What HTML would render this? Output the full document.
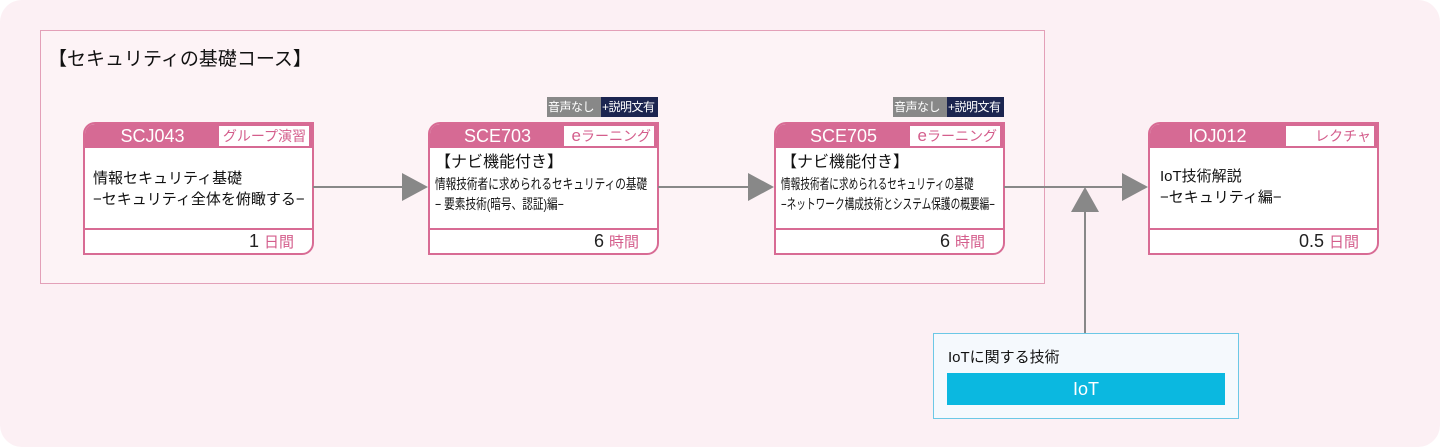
<!DOCTYPE html>
<html><head><meta charset="utf-8"><style>
*{margin:0;padding:0;box-sizing:border-box}
body{width:1440px;height:447px;background:#fff;font-family:"Liberation Sans","Noto Sans CJK JP",sans-serif;position:relative;overflow:hidden}
.bg{position:absolute;left:0;top:0;width:1440px;height:447px;background:#fcf0f4;border-radius:22px}
.grp{position:absolute;left:40px;top:30px;width:1005px;height:254px;border:1px solid #e3a0b8;background:#fdf3f6}
.gt{position:absolute;left:48px;top:44px;font-size:19px;color:#111}
.card{position:absolute;width:231px;height:133px;border:2px solid #d86b94;background:#fff;border-radius:12px 0 12px 0;overflow:hidden}
.hd{position:absolute;left:0;top:0;width:100%;height:24px;background:#d66a94}
.code{position:absolute;left:0;top:0;width:135px;height:24px;color:#fff;font-size:18px;text-align:center;line-height:24px}
.tag{position:absolute;right:3px;top:2px;width:90px;height:20px;background:#fff;color:#d45e8c;font-size:14px;text-align:right;padding-right:3px;line-height:20px;white-space:nowrap}
.body{position:absolute;left:0;top:24px;width:100%;height:82px;border-bottom:2px solid #d86b94;padding-left:8px;color:#111}
.ft{position:absolute;right:18px;bottom:1px;font-size:18px;color:#222}
.ft span{color:#d45e8c;font-size:15px}
.b1{position:absolute;height:20px;font-size:12px;color:#fff;line-height:20px;padding:0 1px;white-space:nowrap;overflow:hidden;letter-spacing:-0.5px}
.cd{font-size:14px;line-height:20px;white-space:nowrap;transform:scaleX(0.76);transform-origin:0 0}
</style></head><body>
<div class="bg"></div>
<div class="grp"></div>
<div class="gt">【セキュリティの基礎コース】</div>

<div class="b1" style="left:547px;top:97px;background:#888;width:54px">音声なし</div>
<div class="b1" style="left:601px;top:97px;background:#1c2550;width:57px">+説明文有</div>
<div class="b1" style="left:893px;top:97px;background:#888;width:54px">音声なし</div>
<div class="b1" style="left:947px;top:97px;background:#1c2550;width:57px">+説明文有</div>

<div class="card" style="left:83px;top:122px"><div class="hd"><div class="code">SCJ043</div><div class="tag">グループ演習</div></div>
<div class="body" style="padding-top:20px;font-size:15px;line-height:21px;white-space:nowrap">情報セキュリティ基礎<br>−セキュリティ全体を俯瞰する−</div><div class="ft">1 <span>日間</span></div></div>

<div class="card" style="left:428px;top:122px"><div class="hd"><div class="code">SCE703</div><div class="tag"><span style="font-size:17px">e</span>ラーニング</div></div>
<div class="body" style="padding-top:4px;padding-left:5px"><div style="font-size:16px;line-height:22px">【ナビ機能付き】</div><div class="cd">情報技術者に求められるセキュリティの基礎<br>− 要素技術(暗号、認証)編−</div></div><div class="ft">6 <span>時間</span></div></div>

<div class="card" style="left:774px;top:122px"><div class="hd"><div class="code">SCE705</div><div class="tag"><span style="font-size:17px">e</span>ラーニング</div></div>
<div class="body" style="padding-top:4px;padding-left:5px"><div style="font-size:16px;line-height:22px">【ナビ機能付き】</div><div class="cd" style="transform:scaleX(0.69)">情報技術者に求められるセキュリティの基礎<br>−ネットワーク構成技術とシステム保護の概要編−</div></div><div class="ft">6 <span>時間</span></div></div>

<div class="card" style="left:1148px;top:122px"><div class="hd"><div class="code">IOJ012</div><div class="tag" style="width:88px">レクチャ</div></div>
<div class="body" style="padding-top:18px;padding-left:10px;font-size:15px;line-height:21px">IoT技術解説<br>−セキュリティ編−</div><div class="ft">0.5 <span>日間</span></div></div>

<svg style="position:absolute;left:0;top:0" width="1440" height="447">
<g fill="#888" stroke="#888" stroke-width="2">
<line x1="313" y1="187" x2="405" y2="187"/><polygon points="402,173 428,187 402,201" stroke="none"/>
<line x1="658" y1="187" x2="750" y2="187"/><polygon points="748,173 774,187 748,201" stroke="none"/>
<line x1="1004" y1="187" x2="1125" y2="187"/><polygon points="1122,173 1148,187 1122,201" stroke="none"/>
<line x1="1085" y1="333" x2="1085" y2="205"/><polygon points="1071,212 1085,187 1099,212" stroke="none"/>
</g></svg>

<div style="position:absolute;left:933px;top:333px;width:306px;height:86px;background:#f5f9fd;border:1px solid #6cc8e6"></div>
<div style="position:absolute;left:948px;top:346px;font-size:15px;color:#111">IoTに関する技術</div>
<div style="position:absolute;left:947px;top:373px;width:278px;height:32px;background:#0bb8e0;color:#fff;font-size:18px;text-align:center;line-height:32px">IoT</div>
</body></html>
